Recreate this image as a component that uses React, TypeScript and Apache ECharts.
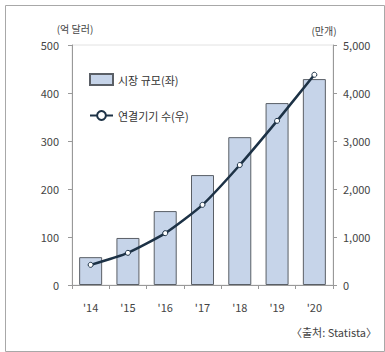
import React, { useEffect, useRef } from "react";
import * as echarts from "echarts";

const categories = ["'14", "'15", "'16", "'17", "'18", "'19", "'20"];
const marketSize = [58, 98, 154, 229, 308, 379, 429];
const devices = [420, 670, 1080, 1670, 2500, 3420, 4380];
const leftTicks = [0, 100, 200, 300, 400, 500];
const rightTicks = [0, 1000, 2000, 3000, 4000, 5000];

export default function App() {
  const ref = useRef<HTMLDivElement>(null);
  useEffect(() => {
    if (!ref.current) return;
    const chart = echarts.init(ref.current, null, { renderer: "svg" });
    const font = "'Noto Sans CJK KR', 'Noto Sans', sans-serif";
    chart.setOption({
      animation: false,
      textStyle: { fontFamily: font },
      grid: {
        left: 72, right: 52, top: 45, bottom: 67,
        show: true, borderColor: "#e2e2e2", borderWidth: 1,
      },
      legend: {
        orient: "vertical", left: 84, top: 68,
        itemWidth: 23, itemHeight: 11, itemGap: 24,
        textStyle: { fontSize: 11, color: "#333", fontFamily: font },
        data: [
          { name: "시장 규모(좌)", icon: "rect" },
          { name: "연결기기 수(우)" },
        ],
      },
      xAxis: {
        type: "category",
        data: categories,
        axisLine: { lineStyle: { color: "#999" } },
        axisTick: { show: true, length: 4, lineStyle: { color: "#999" } },
        axisLabel: { color: "#444", fontSize: 11, margin: 16 },
      },
      yAxis: [
        {
          type: "value", min: leftTicks[0], max: leftTicks[leftTicks.length - 1], interval: 100,
          name: "(억 달러)", nameLocation: "end", nameGap: 12,
          nameTextStyle: { color: "#444", fontSize: 10, align: "center", padding: [0, 0, 0, 6] },
          axisLine: { show: true, lineStyle: { color: "#999" } },
          axisTick: { show: true, length: 4, lineStyle: { color: "#999" } },
          splitLine: { show: false },
          axisLabel: { color: "#444", fontSize: 11, margin: 13 },
        },
        {
          type: "value", min: rightTicks[0], max: rightTicks[rightTicks.length - 1], interval: 1000,
          name: "(만개)", nameLocation: "end", nameGap: 10,
          nameTextStyle: { color: "#444", fontSize: 10, align: "center", padding: [0, 18, 0, 0] },
          axisLine: { show: true, lineStyle: { color: "#999" } },
          axisTick: { show: true, length: 4, lineStyle: { color: "#999" } },
          splitLine: { show: false },
          axisLabel: {
            color: "#444", fontSize: 11, margin: 10,
            formatter: (v: number) => v.toLocaleString("en-US"),
          },
        },
      ],
      series: [
        {
          name: "시장 규모(좌)",
          type: "bar",
          data: marketSize,
          barWidth: 23,
          itemStyle: { color: "#c6d4e9", borderColor: "#5a5f66", borderWidth: 1 },
        },
        {
          name: "연결기기 수(우)",
          type: "line",
          yAxisIndex: 1,
          data: devices,
          smooth: 0.2,
          symbol: "circle",
          symbolSize: 5,
          lineStyle: { color: "#1d3246", width: 2.5 },
          itemStyle: { color: "#ffffff", borderColor: "#1d3246", borderWidth: 1 },
        },
      ],
      graphic: [
        {
          type: "rect", left: 3, top: 3,
          shape: { width: 379, height: 346 },
          style: { fill: "none", stroke: "#a8a8a8", lineWidth: 1 },
          silent: true,
        },
        {
          type: "text", right: 8, top: 326,
          style: { text: "〈출처: Statista〉", fill: "#444", fontSize: 11, fontFamily: font },
        },
      ],
    });
    return () => chart.dispose();
  }, []);
  return <div ref={ref} style={{ position: "fixed", left: 0, top: 0, width: 385, height: 352, background: "#fff" }} />;
}
